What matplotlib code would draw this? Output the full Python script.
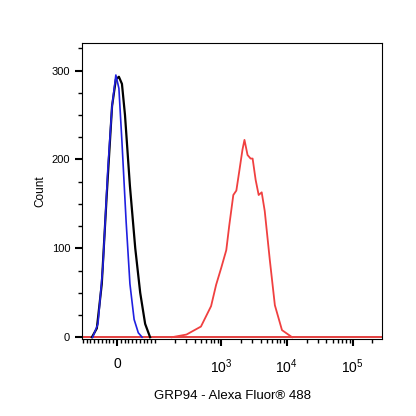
import matplotlib
matplotlib.use("Agg")
import matplotlib.pyplot as plt
from matplotlib.ticker import FixedLocator, MultipleLocator, NullFormatter

plt.rcParams['font.family'] = ['Liberation Sans', 'DejaVu Sans']
plt.rcParams['mathtext.fontset'] = 'custom'
plt.rcParams['mathtext.rm'] = 'Liberation Sans'

black_x = [-66, -53, -40, -27, -13, -3, 5, 13, 21, 34, 48, 61, 74, 87]
black_y = [0, 10, 60, 160, 260, 290, 293, 285, 250, 170, 100, 50, 15, 0]
blue_x = [-64, -50, -37, -24, -13, -3, 5, 13, 24, 34, 45, 56, 66]
blue_y = [0, 15, 80, 190, 260, 295, 280, 220, 130, 60, 20, 5, 0]
red_x = [180, 300, 498, 710, 847, 1012, 1208, 1342, 1545, 1718, 1914, 2128, 2282, 2541,
         2825, 3034, 3373, 3750, 4169, 4634, 5534, 6607, 8472, 12073]
red_y = [0, 3, 12, 35, 59, 78, 98, 126, 160, 165, 188, 211, 222, 205, 201, 201, 177,
         160, 163, 142, 87, 36, 8, 0]

fig = plt.figure(figsize=(4.16, 4.16), dpi=100)
ax = fig.add_axes([82/416, 1-339/416, 300/416, 296/416])
ax.set_xscale('symlog', linthresh=100, linscale=0.52)
ax.plot([-92, 2.8e5], [0, 0], color='#e03030', lw=1.3)
ax.plot(black_x, black_y, color='black', lw=1.6)
ax.plot(blue_x, blue_y, color='#2020e0', lw=1.2)
ax.plot(red_x, red_y, color='#f04040', lw=1.3)
ax.set_xlim(-92, 2.8e5)
ax.set_ylim(-2, 331)

ax.set_xticks([0, 1e3, 1e4, 1e5])
ax.set_xticklabels(['0', r'$10^3$', r'$10^4$', r'$10^5$'])
minors = list(range(-90, 100, 10)) + [k * 10**e for e in (2, 3, 4, 5) for k in range(1, 10)]
ax.xaxis.set_minor_locator(FixedLocator(minors))
ax.xaxis.set_minor_formatter(NullFormatter())
ax.set_yticks([0, 100, 200, 300])
ax.yaxis.set_minor_locator(MultipleLocator(25))
ax.tick_params(which='major', length=5, width=1.5, labelsize=8, direction='out')
ax.tick_params(which='minor', length=3, width=1, direction='out')
ax.tick_params(axis='x', pad=8, labelsize=10)
ax.set_xlabel('GRP94 - Alexa Fluor® 488', fontsize=9.5, labelpad=10)
ax.set_ylabel('Count', fontsize=8.5)
for s in ax.spines.values():
    s.set_linewidth(0.8)
fig.savefig('out.png', dpi=100)
